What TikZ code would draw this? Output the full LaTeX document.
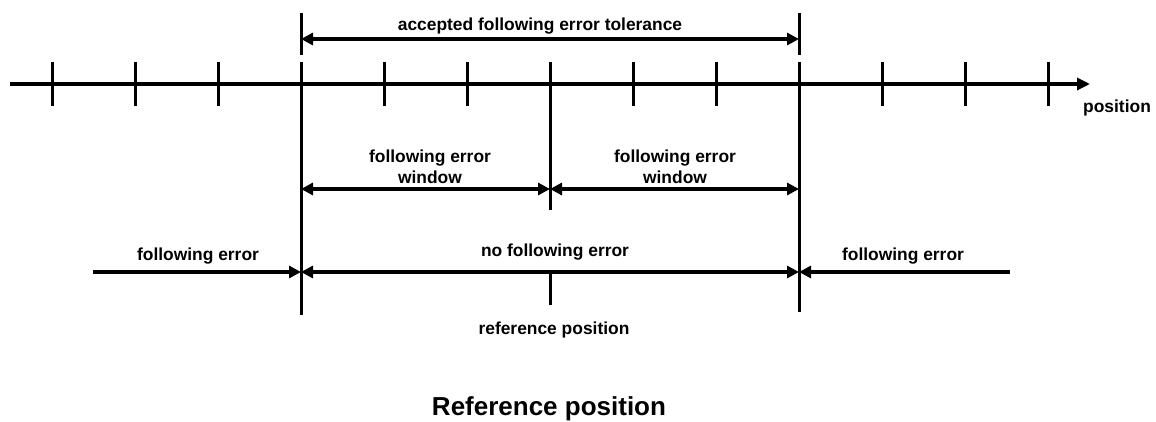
\documentclass[tikz,border=0pt]{standalone}
\usepackage{fontspec}
\setmainfont{Liberation Sans}
\usetikzlibrary{arrows.meta}
\begin{document}
\begin{tikzpicture}[x=1pt,y=-1pt,
  lbl/.style={font=\bfseries\fontsize{17.4}{21}\selectfont, inner sep=0pt, align=center},
  ttl/.style={font=\bfseries\fontsize{26}{30}\selectfont, inner sep=0pt},
  tick/.style={line width=3pt},
  bar/.style={line width=3pt},
  dim/.style={line width=3.2pt, {Triangle[length=12pt,width=12pt]}-{Triangle[length=12pt,width=12pt]}},
  tor/.style={line width=3.2pt, -{Triangle[length=12pt,width=12pt]}}]
\useasboundingbox (0,0) rectangle (1156,421);
% axis
\coordinate (a0) at (10,84);
\coordinate (a1) at (1090,84);
\draw[line width=3.2pt, -{Triangle[length=13pt,width=12pt]}] (a0) -- (a1);
\node[lbl, anchor=north west] (pos) at (1083,100) {position};
% ticks
\foreach \i in {52,135,218,384,467,633,716,882,965,1048}{
  \draw[tick] (\i,62) -- (\i,106);
}
% long verticals
\coordinate (Lt) at (301,13); \coordinate (Lm) at (301,55);
\coordinate (Lb0) at (301,62); \coordinate (Lb) at (301,315);
\coordinate (Rt) at (799,13); \coordinate (Rm) at (799,55);
\coordinate (Rb0) at (799,62); \coordinate (Rb) at (799,312);
\coordinate (Mt) at (550,62); \coordinate (Mb) at (550,210);
\draw[bar] (Lt) -- (Lm); \draw[bar] (Lb0) -- (Lb);
\draw[bar] (Rt) -- (Rm); \draw[bar] (Rb0) -- (Rb);
\draw[bar] (Mt) -- (Mb);
% top arrow
\coordinate (T1) at (301,39); \coordinate (T2) at (799,39);
\draw[dim] (T1) -- (T2);
\node[lbl] (acc) at (540,26) {accepted following error tolerance};
% window arrows
\coordinate (W1) at (301,189); \coordinate (W2) at (550,189); \coordinate (W3) at (799,189);
\draw[dim] (W1) -- (W2);
\draw[dim] (W2) -- (W3);
\node[lbl] (fw1) at (430,167) {following error\\window};
\node[lbl] (fw2) at (675,167) {following error\\window};
% bottom arrows
\coordinate (B0) at (93,272); \coordinate (B1) at (301,272);
\coordinate (B2) at (799,272); \coordinate (B3) at (1010,272);
\draw[tor] (B0) -- (B1);
\draw[dim] (B1) -- (B2);
\draw[tor] (B3) -- (B2);
\node[lbl] (fe1) at (198,256) {following error};
\node[lbl] (nfe) at (555,252) {no following error};
\node[lbl] (fe2) at (903,256) {following error};
% reference tick
\coordinate (R0) at (550,272); \coordinate (R1) at (550,305);
\draw[bar] (R0) -- (R1);
\node[lbl] (rp) at (554,330) {reference position};
\node[ttl, anchor=base] (title) at (549,415) {Reference position};
\end{tikzpicture}
\end{document}
